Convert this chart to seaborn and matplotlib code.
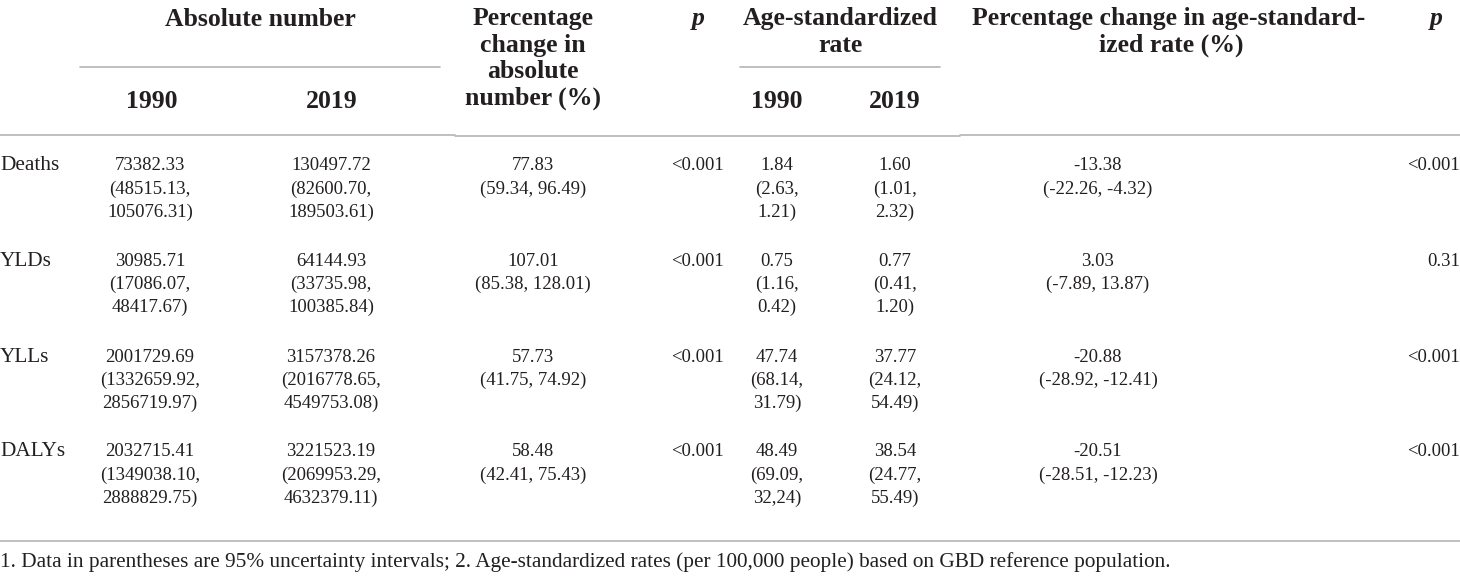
import seaborn as sns
import matplotlib.pyplot as plt

# table content
measures = ["Deaths", "YLDs", "YLLs", "DALYs"]
abs_1990 = [["73382.33", "(48515.13,", "105076.31)"],
            ["30985.71", "(17086.07,", "48417.67)"],
            ["2001729.69", "(1332659.92,", "2856719.97)"],
            ["2032715.41", "(1349038.10,", "2888829.75)"]]
abs_2019 = [["130497.72", "(82600.70,", "189503.61)"],
            ["64144.93", "(33735.98,", "100385.84)"],
            ["3157378.26", "(2016778.65,", "4549753.08)"],
            ["3221523.19", "(2069953.29,", "4632379.11)"]]
pct_abs = [["77.83", "(59.34, 96.49)"],
           ["107.01", "(85.38, 128.01)"],
           ["57.73", "(41.75, 74.92)"],
           ["58.48", "(42.41, 75.43)"]]
p_abs = ["<0.001", "<0.001", "<0.001", "<0.001"]
asr_1990 = [["1.84", "(2.63,", "1.21)"],
            ["0.75", "(1.16,", "0.42)"],
            ["47.74", "(68.14,", "31.79)"],
            ["48.49", "(69.09,", "32,24)"]]
asr_2019 = [["1.60", "(1.01,", "2.32)"],
            ["0.77", "(0.41,", "1.20)"],
            ["37.77", "(24.12,", "54.49)"],
            ["38.54", "(24.77,", "55.49)"]]
pct_asr = [["-13.38", "(-22.26, -4.32)"],
           ["3.03", "(-7.89, 13.87)"],
           ["-20.88", "(-28.92, -12.41)"],
           ["-20.51", "(-28.51, -12.23)"]]
p_asr = ["<0.001", "0.31", "<0.001", "<0.001"]

footnote = ("1. Data in parentheses are 95% uncertainty intervals; "
            "2. Age-standardized rates (per 100,000 people) based on GBD reference population.")

sns.set_theme(style="white")
plt.rcParams['font.family'] = ['Liberation Serif', 'DejaVu Serif']

txt = "#231f20"
rule = "#b4b4b4"

fig = plt.figure(figsize=(14.6, 5.76), dpi=100)
ax = fig.add_axes([0, 0, 1, 1])
ax.set_xlim(0, 1460)
ax.set_ylim(576, 0)
ax.axis("off")

hsize = 18.5
nsize = 13.5
lsize = 15.3


def head(x, y, s, italic=False):
    ax.text(x, y, s, ha="center", va="center", fontsize=hsize, fontweight="bold",
            style="italic" if italic else "normal", color=txt)


# headers
head(260, 19, "Absolute number")
for i, s in enumerate(["Percentage", "change in", "absolute", "number (%)"]):
    head(533, 19 + i * 26.5, s)
head(698, 19, "p", italic=True)
head(840, 19, "Age-standardized")
head(840, 45, "rate")
head(1169, 19, "Percentage change in age-standard-")
head(1171, 45, "ized rate (%)")
head(1436, 19, "p", italic=True)
for x, s in [(152, "1990"), (332, "2019"), (777, "1990"), (895, "2019")]:
    head(x, 101, s)

# rules
ax.plot([80, 440], [67, 67], color=rule, lw=1.2)
ax.plot([740, 940], [67, 67], color=rule, lw=1.2)
ax.plot([0, 455], [135, 135], color=rule, lw=1.2)
ax.plot([455, 960], [136, 136], color=rule, lw=1.2)
ax.plot([960, 1460], [135, 135], color=rule, lw=1.2)
ax.plot([0, 1460], [541, 541], color=rule, lw=1.2)

# body
row_y = [166, 261, 357, 452]
dy = 23
cols = [(150, abs_1990), (331, abs_2019), (533, pct_abs), (777, asr_1990), (895, asr_2019), (1098, pct_asr)]
for r, y0 in enumerate(row_y):
    ax.text(0, y0, measures[r], ha="left", va="center", fontsize=lsize, color=txt)
    for x, col in cols:
        for k, s in enumerate(col[r]):
            ax.text(x, y0 + k * dy, s, ha="center", va="center", fontsize=nsize, color=txt)
    ax.text(698, y0, p_abs[r], ha="center", va="center", fontsize=nsize, color=txt)
    ax.text(1460, y0, p_asr[r], ha="right", va="center", fontsize=nsize, color=txt)

ax.text(0, 562, footnote, ha="left", va="center", fontsize=lsize, color=txt)

fig.savefig("out.png", dpi=100)
